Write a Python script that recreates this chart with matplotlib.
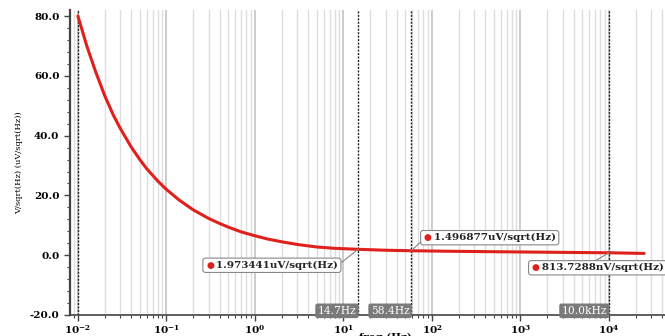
import numpy as np
import matplotlib.pyplot as plt
from matplotlib.ticker import LogLocator, MultipleLocator, NullFormatter, FuncFormatter

# noise density (uV/sqrt(Hz))
freq = [0.01, 0.0126, 0.0158, 0.02, 0.025, 0.03, 0.04, 0.05, 0.06, 0.08,
        0.1, 0.14, 0.2, 0.3, 0.4, 0.5, 0.7, 1.0, 1.4, 2.0, 3.0, 5.0, 8.0,
        14.7, 30, 58.4, 150, 500, 2000, 10000, 25000]
noise = [80, 70, 61.5, 53.5, 47, 42.5, 36.2, 32, 28.9, 24.8,
         22, 18.4, 15.2, 12.3, 10.6, 9.4, 7.8, 6.5, 5.4, 4.5, 3.6, 2.75, 2.3,
         1.973, 1.66, 1.497, 1.33, 1.17, 1.0, 0.814, 0.6]

# cursors: frequency, value, readout, bottom tag
mark_freq = [14.7, 58.4, 10000]
mark_val = [1.973441, 1.496877, 0.8137288]
mark_text = ["1.973441uV/sqrt(Hz)", "1.496877uV/sqrt(Hz)", "813.7288nV/sqrt(Hz)"]
mark_tag = ["14.7Hz", "58.4Hz", "10.0kHz"]

plt.rcParams['font.family'] = ['DejaVu Serif', 'DejaVu Sans']

fig = plt.figure(figsize=(6.65, 3.36), dpi=100)
ax = fig.add_axes([0.105, 0.0625, 0.895, 0.9075])

ax.set_xscale('log')
ax.set_xlim(0.0081, 43000)
ax.set_ylim(-20, 82)

# vertical grid only
ax.xaxis.set_major_locator(LogLocator(base=10, numticks=12))
ax.xaxis.set_minor_locator(LogLocator(base=10, subs=np.arange(2, 10), numticks=12))
ax.xaxis.set_minor_formatter(NullFormatter())
ax.grid(True, which='minor', axis='x', color='#dedede', lw=1.0)
ax.grid(True, which='major', axis='x', color='#c4c4c4', lw=1.2)
ax.set_axisbelow(True)

ax.yaxis.set_major_locator(MultipleLocator(20))
ax.yaxis.set_minor_locator(MultipleLocator(4))
ax.yaxis.set_major_formatter(FuncFormatter(lambda v, p: f"{v:.1f}"))

for s in ['top', 'right']:
    ax.spines[s].set_visible(False)
ax.spines['left'].set_color('#444444')
ax.spines['left'].set_linewidth(1.6)
ax.spines['bottom'].set_color('#444444')
ax.spines['bottom'].set_linewidth(1.2)

ax.tick_params(axis='both', which='major', labelsize=7.5, length=4, color='#444444', width=1)
ax.tick_params(axis='both', which='minor', length=2.5, color='#444444', width=0.8)
ax.tick_params(axis='x', which='major', pad=2)
for lab in ax.get_yticklabels() + ax.get_xticklabels():
    lab.set_fontweight('bold')

ax.set_ylabel("V/sqrt(Hz) (uV/sqrt(Hz))", fontsize=6, labelpad=5)
ax.set_xlabel("freq (Hz)", fontsize=7.5, fontweight='bold', labelpad=0)
ax.xaxis.set_label_coords(0.53, -0.06)

# left dotted cursor at start of sweep
ax.axvline(0.01, color='#222222', lw=1.0, ls=(0, (1.5, 1)))

ax.plot(freq, noise, color='#e0201c', lw=2.2, solid_capstyle='round', zorder=3)

for f, tag in zip(mark_freq, mark_tag):
    ax.axvline(f, color='#222222', lw=1.0, ls=(0, (1.5, 1)), zorder=2)
    ax.text(f / 1.05, -18.6, tag, ha='right', va='center', fontsize=7.7, color='white',
            bbox=dict(boxstyle='round,pad=0.15', fc='#7a7a7a', ec='#7a7a7a'), zorder=4)

# readout boxes: offset in points from the cursor point, where the leader meets the box
offsets = [(-110, -11.5), (8.6, 9.4), (-56, -10.8)]
relpos = [(1.0, 0.55), (0.0, 0.3), (0.45, 1.0)]
for f, v, txt, off, rp in zip(mark_freq, mark_val, mark_text, offsets, relpos):
    ax.annotate("   " + txt, xy=(f, v), xytext=off, textcoords='offset points',
                fontsize=7.5, fontweight='bold', ha='left', va='center', color='#222222',
                bbox=dict(boxstyle='round,pad=0.25', fc='white', ec='#888888', lw=0.8),
                arrowprops=dict(arrowstyle='-', color='#888888', lw=0.8,
                                shrinkA=0, shrinkB=0, relpos=rp),
                zorder=5, annotation_clip=False)
    ax.annotate("\u25cf", xy=(f, v), xytext=(off[0] + 0.5, off[1]), textcoords='offset points',
                fontsize=6.5, ha='left', va='center', color='#e0201c', zorder=6,
                family='DejaVu Sans', annotation_clip=False)

fig.savefig("out.png", dpi=100)
